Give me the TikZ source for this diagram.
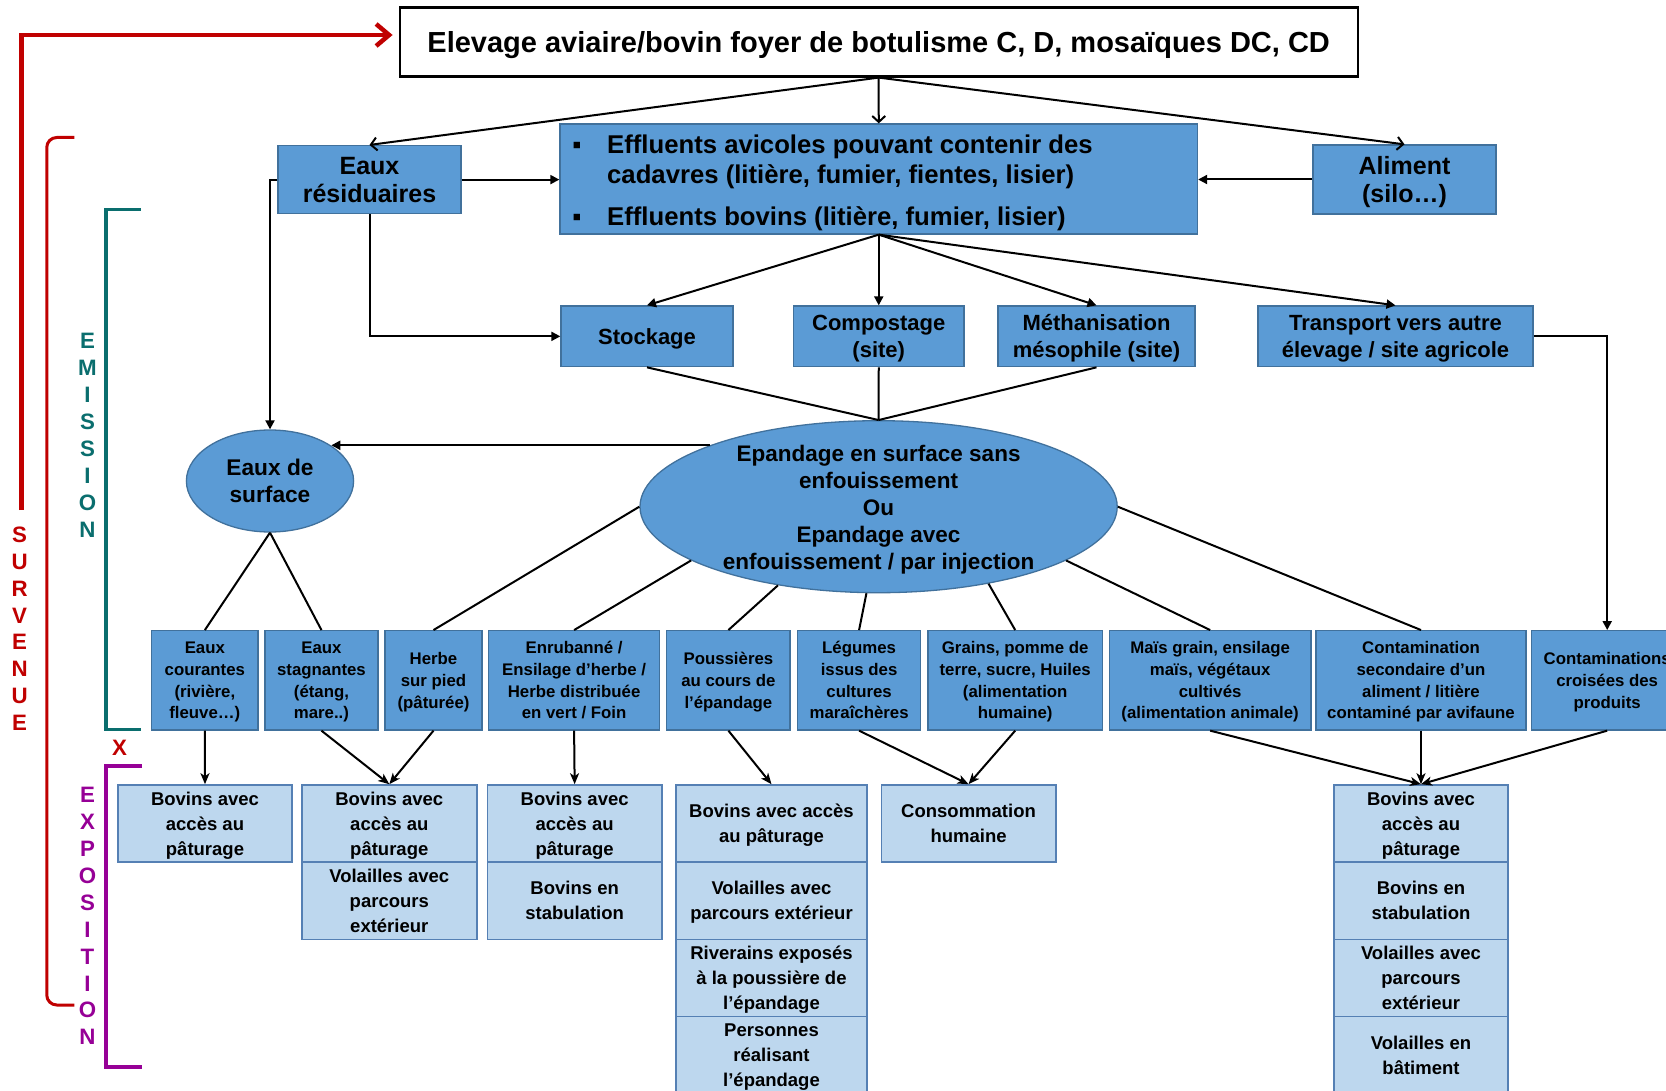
\documentclass[tikz,border=0pt]{standalone}
\usepackage{fontspec}
\setmainfont{Liberation Sans}
\usetikzlibrary{arrows.meta,shapes.geometric,calc}
\definecolor{bfill}{HTML}{5B9BD5}
\definecolor{bline}{HTML}{41719C}
\definecolor{lfill}{HTML}{BDD7EE}
\definecolor{lline}{HTML}{5580B4}
\definecolor{svred}{HTML}{C00000}
\definecolor{emteal}{HTML}{0A6E6E}
\definecolor{expurple}{HTML}{960096}
\newcommand\fsz[2]{\fontsize{#1}{#2}\selectfont\bfseries}
\newcommand\tstrut{\rule[-0.3em]{0pt}{1.32em}}
\begin{document}
\begin{tikzpicture}[x=1pt,y=-1pt,
  strutted/.style={execute at begin node=\tstrut, execute at end node=\tstrut},
  bbox/.style={draw=bline, line width=1.3pt, fill=bfill, inner sep=0pt, align=center, text=black, strutted},
  lvtwo/.style={bbox, minimum height=60.7pt, font={\fsz{22}{26.6}}},
  rowbox/.style={bbox, minimum height=99.3pt, font={\fsz{16.8}{21.7}}},
  ebox/.style={draw=lline, line width=1.6pt, fill=lfill, inner sep=0pt, align=center, minimum height=77.2pt, font={\fsz{18.5}{25}}, strutted},
  conn/.style={draw=black, line width=2pt},
  tarrow/.style={conn, -{Triangle[length=9pt,width=9pt]}},
  oarrow/.style={conn, -{Straight Barb[length=6pt,width=13pt]}},
  sarrow/.style={conn, -{Stealth[length=11pt,width=9pt,inset=3pt]}},
  vletters/.style={anchor=base, inner sep=0pt, font={\fsz{22.3}{26.9}}}
]
\path[fill=white, use as bounding box] (0,0) rectangle (1666,1091);

% ---------- top level
\node[draw=black, line width=2.2pt, fill=white, minimum width=958pt, minimum height=69pt, inner sep=0pt, strutted, font={\fsz{29}{34}}] (title) at (878.7,42) {Elevage aviaire/bovin foyer de botulisme C, D, mosaïques DC, CD};

\node[bbox, minimum width=183pt, minimum height=68pt, font={\fsz{25}{28.7}}] (eaux) at (369.5,179.6) {\tstrut Eaux\\résiduaires};
\node[bbox, minimum width=637.5pt, minimum height=110pt] (eff) at (878.75,179) {};
\node[anchor=base, inner sep=0pt, font={\fsz{25.7}{30}}] (bul1) at (577,154) {▪};
\node[anchor=base west, inner sep=0pt, font={\fsz{25.7}{30}}] (eff1) at (607,154) {\parbox[t]{560pt}{\raggedright Effluents avicoles pouvant contenir des\\cadavres (litière, fumier, fientes, lisier)}};
\node[anchor=base, inner sep=0pt, font={\fsz{25.7}{30}}] (bul2) at (577,226) {▪};
\node[anchor=base west, inner sep=0pt, font={\fsz{25.7}{30}}] (eff2) at (607,226) {Effluents bovins (litière, fumier, lisier)};
\node[bbox, minimum width=183pt, minimum height=69pt, font={\fsz{25}{28.7}}] (alim) at (1404.5,179.5) {\tstrut Aliment\\(silo…)};

% ---------- second level
\node[lvtwo, minimum width=172pt] (stock) at (647,336.35) {Stockage};
\node[lvtwo, minimum width=170.5pt] (compo) at (878.75,336.35) {\tstrut Compostage\\(site)};
\node[lvtwo, minimum width=197pt] (metha) at (1096.5,336.35) {\tstrut Méthanisation\\mésophile (site)};
\node[lvtwo, minimum width=275pt] (transp) at (1395.5,336.35) {\tstrut Transport vers autre\\élevage / site agricole};

% ---------- ellipses
\node[ellipse, draw=bline, line width=1.3pt, fill=bfill, minimum width=167.2pt, minimum height=102pt, inner sep=0pt, align=center, strutted, font={\fsz{22.7}{26.7}}] (eds) at (270,481) {\tstrut Eaux de\\surface};
\node[ellipse, draw=bline, line width=1.3pt, fill=bfill, minimum width=477.2pt, minimum height=172pt, inner sep=0pt] (epa) at (878.6,506.7) {};
\node[align=center, inner sep=0pt, strutted, font={\fsz{22.5}{27}}] (epatxt) at (878.6,507.5) {\tstrut Epandage en surface sans\\enfouissement\\Ou\\Epandage avec\\enfouissement / par injection};

% ---------- emission row
\node[rowbox, minimum width=106.1pt] (ecour) at (204.85,680.35) {\tstrut Eaux\\courantes\\(rivière,\\fleuve…)};
\node[rowbox, minimum width=112.9pt] (estag) at (321.45,680.35) {\tstrut Eaux\\stagnantes\\(étang,\\mare..)};
\node[rowbox, minimum width=97pt] (herbe) at (433.5,680.35) {\tstrut Herbe\\sur pied\\(pâturée)};
\node[rowbox, minimum width=171pt] (enrub) at (574.1,680.35) {\tstrut Enrubanné /\\Ensilage d’herbe /\\Herbe distribuée\\en vert / Foin};
\node[rowbox, minimum width=123.2pt] (pouss) at (728.4,680.35) {\tstrut Poussières\\au cours de\\l’épandage};
\node[rowbox, minimum width=123.2pt] (leg) at (859.1,680.35) {\tstrut Légumes\\issus des\\cultures\\maraîchères};
\node[rowbox, minimum width=174.6pt] (grains) at (1015.2,680.35) {\tstrut Grains, pomme de\\terre, sucre, Huiles\\(alimentation\\humaine)};
\node[rowbox, minimum width=201.7pt] (mais) at (1210.15,680.35) {\tstrut Maïs grain, ensilage\\maïs, végétaux\\cultivés\\(alimentation animale)};
\node[rowbox, minimum width=210pt] (contsec) at (1421,680.35) {\tstrut Contamination\\secondaire d’un\\aliment / litière\\contaminé par avifaune};
\node[rowbox, minimum width=151.6pt] (crois) at (1607.2,680.35) {\tstrut Contaminations\\croisées des\\produits};

% ---------- exposition
\node[ebox, minimum width=174pt] (A1) at (205,823.6) {\tstrut Bovins avec\\accès au\\pâturage};
\node[ebox, minimum width=175pt] (B1) at (389.3,823.6) {\tstrut Bovins avec\\accès au\\pâturage};
\node[ebox, minimum width=175pt] (B2) at (389.3,900.8) {\tstrut Volailles avec\\parcours\\extérieur};
\node[ebox, minimum width=174.3pt] (C1) at (574.65,823.6) {\tstrut Bovins avec\\accès au\\pâturage};
\node[ebox, minimum width=174.3pt] (C2) at (574.65,900.8) {\tstrut Bovins en\\stabulation};
\node[ebox, minimum width=191pt] (D1) at (771.5,823.6) {\tstrut Bovins avec accès\\au pâturage};
\node[ebox, minimum width=191pt] (D2) at (771.5,900.8) {\tstrut Volailles avec\\parcours extérieur};
\node[ebox, minimum width=191pt] (D3) at (771.5,978) {\tstrut Riverains exposés\\à la poussière de\\l’épandage};
\node[ebox, minimum width=191pt] (D4) at (771.5,1055.2) {\tstrut Personnes\\réalisant\\l’épandage};
\node[ebox, minimum width=174.3pt] (E1) at (968.55,823.6) {\tstrut Consommation\\humaine};
\node[ebox, minimum width=174pt] (F1) at (1421,823.6) {\tstrut Bovins avec\\accès au\\pâturage};
\node[ebox, minimum width=174pt] (F2) at (1421,900.8) {\tstrut Bovins en\\stabulation};
\node[ebox, minimum width=174pt] (F3) at (1421,978) {\tstrut Volailles avec\\parcours\\extérieur};
\node[ebox, minimum width=174pt] (F4) at (1421,1055.2) {\tstrut Volailles en\\bâtiment};

% ---------- side brackets and labels
\coordinate (survend) at (21.3,510);
\draw[svred, line width=4.5pt, -{Straight Barb[length=13pt,width=22pt]}] (survend) |- ([xshift=-6pt,yshift=7pt]title.west);
\draw[svred, line width=3pt, rounded corners=10pt] (74.4,137.5) -- (46.75,137.5) -- (46.75,1005) -- (74.4,1005);
\draw[emteal, line width=3.2pt] (140.5,209.5) -- (106,209.5) -- (106,729.5) -- (140.5,729.5);
\draw[expurple, line width=3.2pt] (142,766) -- (106,766) -- (106,1067) -- (142,1067);
\node[vletters, text=svred] (survenue) at (19.6,542.3) {\parbox[t]{30pt}{\centering S\\U\\R\\V\\E\\N\\U\\E}};
\node[vletters, text=emteal] (emission) at (87.5,349) {\parbox[t]{30pt}{\centering E\\M\\I\\S\\S\\I\\O\\N}};
\node[vletters, text=expurple] (exposition) at (87.5,802.7) {\parbox[t]{30pt}{\centering E\\X\\P\\O\\S\\I\\T\\I\\O\\N}};
\node[inner sep=0pt, text=svred, font={\fsz{22.3}{27}}] (xmark) at (119.6,748) {X};

% ---------- connectors
\draw[oarrow] (title.south) -- (eaux.north);
\draw[oarrow] (title.south) -- (eff.north);
\draw[oarrow] (title.south) -- (alim.north);
\draw[tarrow] (eaux.east) -- (eaux.east -| eff.west);
\draw[tarrow] (alim.west) -- (alim.west -| eff.east);
\draw[tarrow] (eaux.west) -| (eds.north);
\draw[tarrow] (eaux.south) |- (stock.west);
\draw[tarrow] (eff.south) -- (stock.north);
\draw[tarrow] (eff.south) -- (compo.north);
\draw[tarrow] (eff.south) -- (metha.north);
\draw[tarrow] (eff.south) -- (transp.north);
\draw[conn] (stock.south) -- (epa.north);
\draw[conn] (compo.south) -- (epa.north);
\draw[conn] (metha.south) -- (epa.north);
\draw[tarrow] (transp.east) -| (crois.north);
\draw[tarrow] (epa.160) -- (epa.160 -| eds.30);
\draw[conn] (eds.south) -- (ecour.north);
\draw[conn] (eds.south) -- (estag.north);
\draw[conn] (epa.180) -- (herbe.north);
\draw[conn] (epa.196) -- (enrub.north);
\draw[conn] (epa.218) -- (pouss.north);
\draw[conn] (epa.262) -- (leg.north);
\draw[conn] (epa.325) -- (grains.north);
\draw[conn] (epa.344) -- (mais.north);
\draw[conn] (epa.0) -- (contsec.north);
\draw[sarrow] (ecour.south) -- (A1.north);
\draw[sarrow] (estag.south) -- (B1.north);
\draw[sarrow] (herbe.south) -- (B1.north);
\draw[sarrow] (enrub.south) -- (C1.north);
\draw[sarrow] (pouss.south) -- (D1.north);
\draw[sarrow] (leg.south) -- (E1.north);
\draw[sarrow] (grains.south) -- (E1.north);
\draw[sarrow] (mais.south) -- (F1.north);
\draw[sarrow] (contsec.south) -- (F1.north);
\draw[sarrow] (crois.south) -- (F1.north);
\end{tikzpicture}
\end{document}
